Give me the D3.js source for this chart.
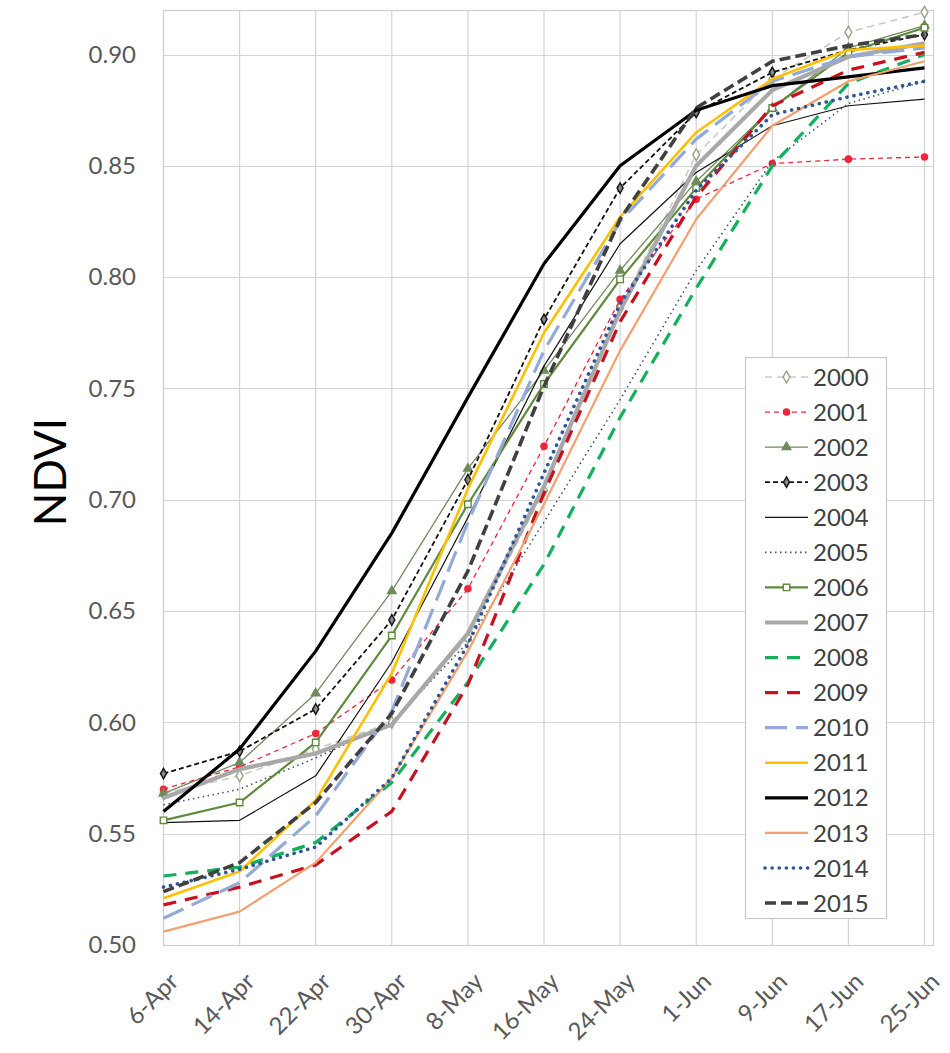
<!DOCTYPE html>
<html>
<head>
<meta charset="utf-8">
<script src="https://cdn.jsdelivr.net/npm/d3@7"></script>
<style>
  html, body { margin: 0; padding: 0; background: #fff; }
  svg { display: block; }
  text { font-family: Lato, "Open Sans", "Liberation Sans", sans-serif; }
</style>
</head>
<body>
<svg id="chart" width="950" height="1053"></svg>
<script>
// Observation dates (categories on the x axis)
const dates = ["6-Apr", "14-Apr", "22-Apr", "30-Apr", "8-May", "16-May",
               "24-May", "1-Jun", "9-Jun", "17-Jun", "25-Jun"];

// Y axis tick labels
const yTicks = [0.50, 0.55, 0.60, 0.65, 0.70, 0.75, 0.80, 0.85, 0.90];

// NDVI per year, one value per date
const ndvi2000 = [0.568, 0.576, 0.588, 0.600, 0.638, 0.704, 0.786, 0.855, 0.889, 0.910, 0.919];
const ndvi2001 = [0.570, 0.580, 0.595, 0.619, 0.660, 0.724, 0.790, 0.835, 0.851, 0.853, 0.854];
const ndvi2002 = [0.568, 0.582, 0.613, 0.659, 0.714, 0.758, 0.803, 0.843, 0.876, 0.903, 0.913];
const ndvi2003 = [0.577, 0.587, 0.606, 0.646, 0.709, 0.781, 0.840, 0.874, 0.892, 0.902, 0.909];
const ndvi2004 = [0.555, 0.556, 0.576, 0.627, 0.692, 0.760, 0.815, 0.847, 0.868, 0.877, 0.880];
const ndvi2005 = [0.563, 0.570, 0.584, 0.600, 0.636, 0.690, 0.745, 0.803, 0.852, 0.878, 0.888];
const ndvi2006 = [0.556, 0.564, 0.591, 0.639, 0.698, 0.752, 0.799, 0.840, 0.876, 0.901, 0.912];
const ndvi2007 = [0.566, 0.579, 0.586, 0.599, 0.640, 0.706, 0.785, 0.850, 0.884, 0.899, 0.905];
const ndvi2008 = [0.531, 0.535, 0.546, 0.573, 0.618, 0.671, 0.737, 0.795, 0.850, 0.887, 0.900];
const ndvi2009 = [0.518, 0.526, 0.536, 0.560, 0.617, 0.703, 0.780, 0.836, 0.877, 0.893, 0.901];
const ndvi2010 = [0.512, 0.528, 0.558, 0.605, 0.690, 0.767, 0.825, 0.862, 0.888, 0.899, 0.903];
const ndvi2011 = [0.521, 0.533, 0.565, 0.622, 0.705, 0.775, 0.827, 0.865, 0.889, 0.902, 0.904];
const ndvi2012 = [0.560, 0.588, 0.632, 0.685, 0.746, 0.806, 0.850, 0.875, 0.886, 0.890, 0.894];
const ndvi2013 = [0.506, 0.515, 0.537, 0.575, 0.632, 0.698, 0.767, 0.826, 0.868, 0.888, 0.897];
const ndvi2014 = [0.526, 0.534, 0.544, 0.575, 0.635, 0.712, 0.788, 0.839, 0.873, 0.881, 0.888];
const ndvi2015 = [0.524, 0.537, 0.564, 0.604, 0.668, 0.751, 0.826, 0.876, 0.897, 0.904, 0.909];

const years = ["2000", "2001", "2002", "2003", "2004", "2005", "2006", "2007",
               "2008", "2009", "2010", "2011", "2012", "2013", "2014", "2015"];
const seriesValues = [ndvi2000, ndvi2001, ndvi2002, ndvi2003, ndvi2004, ndvi2005,
                      ndvi2006, ndvi2007, ndvi2008, ndvi2009, ndvi2010, ndvi2011,
                      ndvi2012, ndvi2013, ndvi2014, ndvi2015];

// Line and marker styling per year
const styles = {
  "2000": { color: "#c5cdbd", width: 1.6, dash: "7,5", marker: "diamond", mStroke: "#93a47f", mFill: "#fff", mSize: 40 },
  "2001": { color: "#f0243c", width: 1.3, dash: "5,4", marker: "circle", mStroke: "#f0243c", mFill: "#f0243c", mSize: 30 },
  "2002": { color: "#6f8a5e", width: 1.3, dash: null, marker: "triangle", mStroke: "#6f8a5e", mFill: "#6f8a5e", mSize: 32 },
  "2003": { color: "#111", width: 1.8, dash: "5,3", marker: "diamond", mStroke: "#111", mFill: "#888", mSize: 32 },
  "2004": { color: "#111", width: 1.2, dash: null },
  "2005": { color: "#44546a", width: 1.6, dash: "1.5,3.5" },
  "2006": { color: "#5e8a3c", width: 2.2, dash: null, marker: "square", mStroke: "#5e8a3c", mFill: "#fff", mSize: 42 },
  "2007": { color: "#a8a8a8", width: 4.2, dash: null },
  "2008": { color: "#12b05a", width: 3.2, dash: "13,9" },
  "2009": { color: "#c8101e", width: 3.2, dash: "13,9" },
  "2010": { color: "#93a9d8", width: 3.2, dash: "22,9" },
  "2011": { color: "#ffc000", width: 2.6, dash: null },
  "2012": { color: "#000", width: 3.2, dash: null },
  "2013": { color: "#f2a070", width: 2.2, dash: null },
  "2014": { color: "#2f5597", width: 3.6, dash: "0.1,7", cap: "round" },
  "2015": { color: "#404040", width: 3.6, dash: "11,5" }
};

const symbolTypes = {
  diamond: d3.symbolDiamond, circle: d3.symbolCircle,
  triangle: d3.symbolTriangle, square: d3.symbolSquare
};

const svg = d3.select("#chart");
svg.append("rect").attr("width", 950).attr("height", 1053).attr("fill", "#fff");

const plot = { left: 163, right: 933, top: 10, bottom: 945 };

const x = d3.scalePoint().domain(dates).range([163.5, 924.5]);
const y = d3.scaleLinear().domain([0.5, 0.92]).range([plot.bottom, plot.top]);

// Grid
const grid = svg.append("g").attr("stroke", "#d4d4d4").attr("stroke-width", 1.2);
grid.selectAll("line.h").data(yTicks).join("line")
  .attr("x1", plot.left).attr("x2", plot.right)
  .attr("y1", d => Math.round(y(d)) + 0.5).attr("y2", d => Math.round(y(d)) + 0.5);
grid.selectAll("line.v").data(dates).join("line")
  .attr("x1", d => x(d)).attr("x2", d => x(d))
  .attr("y1", plot.top).attr("y2", plot.bottom);
svg.append("rect")
  .attr("x", plot.left + 0.5).attr("y", plot.top + 0.5)
  .attr("width", plot.right - plot.left).attr("height", plot.bottom - plot.top)
  .attr("fill", "none").attr("stroke", "#cfcfcf").attr("stroke-width", 1.2);

// Y axis
const yAxis = svg.append("g")
  .attr("transform", `translate(${plot.left},0)`)
  .call(d3.axisLeft(y).tickValues(yTicks).tickFormat(d3.format(".2f")).tickSize(0).tickPadding(27));
yAxis.select(".domain").remove();
yAxis.selectAll("text")
  .attr("font-family", "Lato, 'Open Sans', sans-serif")
  .attr("font-size", 24).attr("fill", "#595959");

// X axis
const xAxis = svg.append("g")
  .attr("transform", `translate(0,${plot.bottom})`)
  .call(d3.axisBottom(x).tickSize(0));
xAxis.select(".domain").remove();
xAxis.selectAll("text")
  .attr("font-family", "Lato, 'Open Sans', sans-serif")
  .attr("font-size", 24).attr("fill", "#595959")
  .attr("text-anchor", "end")
  .attr("dy", null)
  .attr("y", 0)
  .attr("transform", "translate(16,38) rotate(-45)");

// Y axis title
svg.append("text")
  .attr("transform", "translate(66,472) rotate(-90)")
  .attr("text-anchor", "middle")
  .attr("font-family", "Lato, 'Open Sans', sans-serif")
  .attr("font-size", 44).attr("fill", "#000")
  .text("NDVI");

// Series lines
const line = d3.line().x((d, i) => x(dates[i])).y(d => y(d));
const seriesG = svg.append("g");
years.forEach((yr, k) => {
  const st = styles[yr];
  const vals = seriesValues[k];
  const g = seriesG.append("g");
  g.append("path")
    .datum(vals)
    .attr("d", line)
    .attr("fill", "none")
    .attr("stroke", st.color)
    .attr("stroke-width", st.width)
    .attr("stroke-dasharray", st.dash)
    .attr("stroke-linecap", st.cap || "butt")
    .attr("stroke-linejoin", "round");
  if (st.marker) {
    g.selectAll("path.m").data(vals).join("path")
      .attr("class", "m")
      .attr("transform", (d, i) => `translate(${x(dates[i])},${y(d)})`)
      .attr("d", d3.symbol().type(symbolTypes[st.marker]).size(st.mSize))
      .attr("fill", st.mFill).attr("stroke", st.mStroke).attr("stroke-width", 1.4);
  }
});

// Legend
const legend = { x: 745, y: 357, w: 141, h: 561, first: 377, step: 35.07 };
const lg = svg.append("g");
lg.append("rect")
  .attr("x", legend.x + 0.5).attr("y", legend.y + 0.5)
  .attr("width", legend.w).attr("height", legend.h)
  .attr("fill", "#fff").attr("stroke", "#c8c8c8").attr("stroke-width", 1.2);
years.forEach((yr, k) => {
  const st = styles[yr];
  const cy = legend.first + k * legend.step;
  const item = lg.append("g");
  item.append("line")
    .attr("x1", 765).attr("x2", 808).attr("y1", cy).attr("y2", cy)
    .attr("stroke", st.color).attr("stroke-width", st.width)
    .attr("stroke-dasharray", st.dash)
    .attr("stroke-linecap", st.cap || "butt");
  if (st.marker) {
    item.append("path")
      .attr("transform", `translate(786.5,${cy})`)
      .attr("d", d3.symbol().type(symbolTypes[st.marker]).size(st.mSize))
      .attr("fill", st.mFill).attr("stroke", st.mStroke).attr("stroke-width", 1.4);
  }
  item.append("text")
    .attr("x", 813).attr("y", cy).attr("dy", "0.36em")
    .attr("font-family", "Lato, 'Open Sans', sans-serif")
    .attr("font-size", 24).attr("fill", "#404040")
    .text(yr);
});
</script>
</body>
</html>
